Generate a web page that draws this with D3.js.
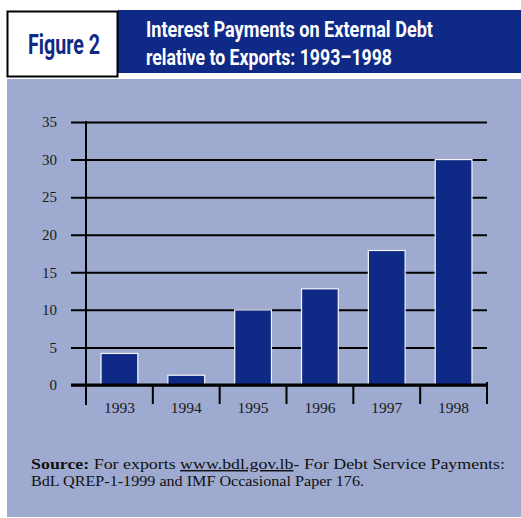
<!DOCTYPE html>
<html>
<head>
<meta charset="utf-8">
<script src="https://cdn.jsdelivr.net/npm/d3@7"></script>
<style>
  html, body { margin: 0; padding: 0; background: #ffffff; }
  svg { display: block; }
  .serif { font-family: "Liberation Serif", "DejaVu Serif", serif; font-variant-numeric: oldstyle-nums; }
  .cond { font-family: "Liberation Sans Narrow", "Roboto", "Liberation Sans", sans-serif; font-weight: bold; }
</style>
</head>
<body>
<svg id="chart" width="521" height="518"></svg>
<script>
// Interest payments on external debt as % of exports
const years = ["1993", "1994", "1995", "1996", "1997", "1998"];
const values = [4.2, 1.3, 10, 12.8, 17.9, 30];
const yTicks = [0, 5, 10, 15, 20, 25, 30, 35];

const navy = "#0f2a86";
const panel = "#9eaacf";

const svg = d3.select("#chart");

// Header: figure number box and title band
svg.append("rect").attr("x", 118).attr("y", 10).attr("width", 403).attr("height", 63).attr("fill", navy);
svg.append("rect").attr("x", 7.5).attr("y", 11.5).attr("width", 110).attr("height", 65)
  .attr("fill", "#fff").attr("stroke", "#000").attr("stroke-width", 2);
svg.append("text").attr("class", "cond").attr("x", 28).attr("y", 54)
  .attr("font-size", 27).attr("fill", navy)
  .attr("textLength", 72).attr("lengthAdjust", "spacingAndGlyphs")
  .text("Figure 2");
svg.append("text").attr("class", "cond").attr("x", 146).attr("y", 37)
  .attr("font-size", 22).attr("fill", "#fff")
  .attr("textLength", 287).attr("lengthAdjust", "spacingAndGlyphs")
  .text("Interest Payments on External Debt");
svg.append("text").attr("class", "cond").attr("x", 146).attr("y", 65)
  .attr("font-size", 22).attr("fill", "#fff")
  .attr("textLength", 246).attr("lengthAdjust", "spacingAndGlyphs")
  .text("relative to Exports: 1993\u20131998");

// Chart panel
svg.append("rect").attr("x", 7).attr("y", 79).attr("width", 514).attr("height", 438).attr("fill", panel);

const x = d3.scaleBand().domain(years).range([86, 487]).paddingInner(0.45).paddingOuter(0.225);
const y = d3.scaleLinear().domain([0, 35]).range([385, 122]);

// Horizontal gridlines with left tick extension
const yAxis = d3.axisLeft(y).tickValues(yTicks).tickSize(-(487 - 71)).tickSizeOuter(0).tickPadding(14)
  .tickFormat(d3.format("d"));
const gy = svg.append("g").attr("transform", "translate(71,0)").call(yAxis);
gy.select(".domain").remove();
gy.selectAll(".tick line").attr("stroke", "#000").attr("stroke-width", 2)
  .attr("x1", 0).attr("x2", 487 - 71);
gy.selectAll(".tick text").attr("class", "serif").attr("font-size", 15).attr("fill", "#1a1a1a")
  .attr("x", -14);

// Bars
svg.append("g").selectAll("rect").data(years).join("rect")
  .attr("x", d => x(d))
  .attr("width", x.bandwidth())
  .attr("y", (d, i) => y(values[i]))
  .attr("height", (d, i) => y(0) - y(values[i]))
  .attr("fill", navy)
  .attr("stroke", "#f4f4f8").attr("stroke-width", 1.2);

// Baseline and vertical axis
svg.append("line").attr("x1", 71).attr("x2", 488).attr("y1", y(0)).attr("y2", y(0))
  .attr("stroke", "#000").attr("stroke-width", 3);
svg.append("line").attr("x1", 86).attr("x2", 86).attr("y1", y(35) - 1).attr("y2", 405)
  .attr("stroke", "#000").attr("stroke-width", 2);

// Category dividers below the baseline
const step = x.step();
const bounds = years.map(d => x(d) - step * x.paddingInner() / 2 + step);
svg.append("g").selectAll("line").data(bounds).join("line")
  .attr("x1", d => d).attr("x2", d => d)
  .attr("y1", (d, i) => i === bounds.length - 1 ? y(0) - 3 : y(0))
  .attr("y2", 404)
  .attr("stroke", "#000").attr("stroke-width", 2);

// Category labels
svg.append("g").selectAll("text").data(years).join("text")
  .attr("class", "serif")
  .attr("x", d => x(d) + x.bandwidth() / 2)
  .attr("y", 413)
  .attr("text-anchor", "middle")
  .attr("font-size", 15.5).attr("fill", "#1a1a1a")
  .text(d => d);

// Source note
const src1 = svg.append("text").attr("class", "serif").attr("x", 31).attr("y", 469)
  .attr("font-size", 14.5).attr("fill", "#111")
  .attr("textLength", 474).attr("lengthAdjust", "spacingAndGlyphs");
src1.append("tspan").attr("font-weight", "bold").text("Source:");
src1.append("tspan").text(" For exports ");
src1.append("tspan").attr("text-decoration", "underline").text("www.bdl.gov.lb");
src1.append("tspan").text("- For Debt Service Payments:");
svg.append("text").attr("class", "serif").attr("x", 31).attr("y", 486)
  .attr("font-size", 14.5).attr("fill", "#111")
  .attr("textLength", 333).attr("lengthAdjust", "spacingAndGlyphs")
  .text("BdL QREP-1-1999 and IMF Occasional Paper 176.");
</script>
</body>
</html>
